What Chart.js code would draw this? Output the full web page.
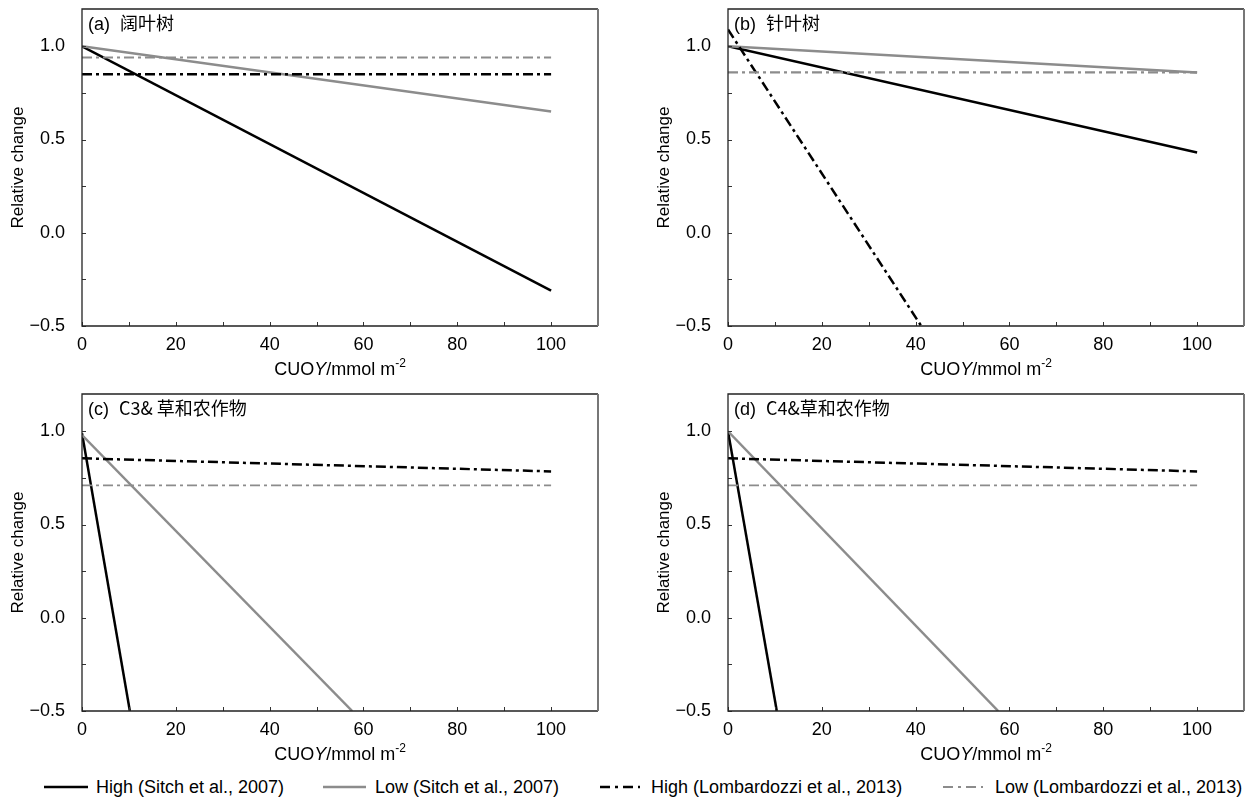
<!DOCTYPE html>
<html>
<head>
<meta charset="utf-8">
<script src="https://cdn.jsdelivr.net/npm/chart.js@4.4.1/dist/chart.umd.min.js"></script>
<style>
  body { margin: 0; background: #fff; width: 1247px; height: 798px; position: relative; overflow: hidden;
         font-family: "Liberation Sans", Arial, sans-serif; }
  .panel { position: absolute; }
  .legend { position: absolute; top: 776px; left: 0; width: 1247px; height: 22px; font-size: 18px; color: #000; }
  .legend span, .legend svg { position: absolute; }
  .legend span { top: 1px; white-space: nowrap; line-height: 20px; }
  .legend svg { top: 9px; }
</style>
</head>
<body>
<div class="panel" style="left:0;top:0"><canvas id="pa" width="623" height="385"></canvas></div>
<div class="panel" style="left:646px;top:0"><canvas id="pb" width="601" height="385"></canvas></div>
<div class="panel" style="left:0;top:385px"><canvas id="pc" width="623" height="385"></canvas></div>
<div class="panel" style="left:646px;top:385px"><canvas id="pd" width="601" height="385"></canvas></div>

<div class="legend">
  <svg style="left:44px" width="44" height="4"><line x1="0" y1="2" x2="44" y2="2" stroke="#000" stroke-width="2.5"/></svg>
  <span style="left:96px">High (Sitch et al., 2007)</span>
  <svg style="left:323px" width="43" height="4"><line x1="0" y1="2" x2="43" y2="2" stroke="#8c8c8c" stroke-width="2.5"/></svg>
  <span style="left:375px">Low (Sitch et al., 2007)</span>
  <svg style="left:600px" width="40" height="4"><line x1="0" y1="2" x2="40" y2="2" stroke="#000" stroke-width="2.5" stroke-dasharray="10 5 3 5"/></svg>
  <span style="left:651px">High (Lombardozzi et al., 2013)</span>
  <svg style="left:943px" width="40" height="4"><line x1="0" y1="2" x2="40" y2="2" stroke="#8c8c8c" stroke-width="2" stroke-dasharray="10 5 3 5"/></svg>
  <span style="left:995px">Low (Lombardozzi et al., 2013)</span>
</div>

<script>
// panels: a 阔叶树, b 针叶树, c C3&草和农作物, d C4&草和农作物
const panelLabels = ['(a)', '(b)', '(c)', '(d)'];
const panelNames = ['阔叶树', '针叶树', 'C3& 草和农作物', 'C4&草和农作物'];
const seriesNames = ['High (Sitch et al., 2007)', 'Low (Sitch et al., 2007)',
                     'High (Lombardozzi et al., 2013)', 'Low (Lombardozzi et al., 2013)'];

const highSitchX = [[0, 100], [0, 100], [0, 10.2], [0, 10.4]];
const highSitchY = [[1.0, -0.31], [1.0, 0.43], [0.99, -0.5], [1.0, -0.5]];
const lowSitchX = [[0, 100], [0, 100], [0, 57.6], [0, 57.6]];
const lowSitchY = [[1.0, 0.65], [1.0, 0.86], [0.98, -0.5], [1.0, -0.5]];
const highLombX = [[0, 100], [0, 41.2], [0, 100], [0, 100]];
const highLombY = [[0.85, 0.85], [1.09, -0.5], [0.855, 0.785], [0.855, 0.785]];
const lowLombX = [[0, 100], [0, 100], [0, 100], [0, 100]];
const lowLombY = [[0.94, 0.94], [0.86, 0.86], [0.71, 0.71], [0.71, 0.71]];

const xTicks = [0, 20, 40, 60, 80, 100];
const xMinor = [10, 30, 50, 70, 90];
const yTicks = [-0.5, 0.0, 0.5, 1.0];
const yMinor = [-0.25, 0.25, 0.75];

const BLACK = '#000000';
const GRAY = '#8c8c8c';
const FONT = '"Liberation Sans", Arial, sans-serif';
const CJK = '"Noto Sans CJK SC", sans-serif';

function pts(xs, ys) { return xs.map((x, i) => ({ x: x, y: ys[i] })); }

// frame, inward ticks and text that needs mixed fonts
const decorations = {
  id: 'decorations',
  afterDraw(chart) {
    const ctx = chart.ctx, a = chart.chartArea;
    const xs = chart.scales.x, ys = chart.scales.y;
    const idx = chart.options.plugins.decorations.idx;
    ctx.save();
    // ticks
    ctx.strokeStyle = '#333';
    ctx.lineWidth = 1;
    ctx.beginPath();
    xTicks.concat(xMinor).forEach(v => {
      const px = Math.round(xs.getPixelForValue(v)) + 0.5;
      ctx.moveTo(px, a.bottom); ctx.lineTo(px, a.bottom - 4);
    });
    yTicks.concat(yMinor).forEach(v => {
      const py = Math.round(ys.getPixelForValue(v)) + 0.5;
      ctx.moveTo(a.left, py); ctx.lineTo(a.left + 4, py);
    });
    ctx.stroke();
    // frame
    ctx.lineWidth = 1.3;
    ctx.strokeStyle = '#222';
    ctx.beginPath();
    ctx.moveTo(a.right, a.top); ctx.lineTo(a.left, a.top); ctx.lineTo(a.left, a.bottom); ctx.lineTo(a.right, a.bottom);
    ctx.stroke();
    ctx.strokeStyle = '#777';
    ctx.lineWidth = 2;
    ctx.beginPath();
    ctx.moveTo(a.right, a.top); ctx.lineTo(a.right, a.bottom);
    ctx.stroke();

    ctx.fillStyle = '#000';
    ctx.textBaseline = 'alphabetic';
    // panel label
    ctx.font = '18px ' + FONT;
    ctx.textAlign = 'left';
    ctx.fillText(panelLabels[idx], a.left + 6, a.top + 21);
    const lw = ctx.measureText(panelLabels[idx]).width;
    ctx.font = '18px ' + CJK;
    ctx.fillText(panelNames[idx], a.left + 6 + lw + 10, a.top + 21);

    // x title: CUO Y /mmol m^-2
    const parts = [['CUO', '18px ' + FONT, 0], ['Y', 'italic 18px ' + FONT, 0],
                   ['/mmol m', '18px ' + FONT, 0], ['-2', '12px ' + FONT, -8]];
    let total = 0;
    parts.forEach(p => { ctx.font = p[1]; total += ctx.measureText(p[0]).width; });
    let x = (a.left + a.right) / 2 - total / 2;
    const by = a.bottom + 49;
    parts.forEach(p => {
      ctx.font = p[1];
      ctx.fillText(p[0], x, by + p[2]);
      x += ctx.measureText(p[0]).width;
    });

    // y title
    ctx.font = '17px ' + FONT;
    ctx.translate(18, (a.top + a.bottom) / 2);
    ctx.rotate(-Math.PI / 2);
    ctx.textAlign = 'center';
    ctx.textBaseline = 'middle';
    ctx.fillText('Relative change', 0, 0);
    ctx.restore();
  }
};

function makePanel(id, idx, rightPad) {
  const datasets = [
    { label: seriesNames[3], data: pts(lowLombX[idx], lowLombY[idx]), borderColor: GRAY,
      borderWidth: idx >= 2 ? 1.6 : 2.2, borderDash: [10, 4, 3, 4] },
    { label: seriesNames[2], data: pts(highLombX[idx], highLombY[idx]), borderColor: BLACK,
      borderWidth: 2.5, borderDash: [10, 4, 3, 4] },
    { label: seriesNames[1], data: pts(lowSitchX[idx], lowSitchY[idx]), borderColor: GRAY, borderWidth: 2.5 },
    { label: seriesNames[0], data: pts(highSitchX[idx], highSitchY[idx]), borderColor: BLACK, borderWidth: 2.5 }
  ];
  datasets.forEach(d => { d.pointRadius = 0; d.fill = false; d.tension = 0; });

  new Chart(document.getElementById(id), {
    type: 'line',
    data: { datasets: datasets },
    options: {
      responsive: false,
      animation: false,
      layout: { padding: { top: 9, right: rightPad, left: 0, bottom: 0 } },
      plugins: { legend: { display: false }, tooltip: { enabled: false }, decorations: { idx: idx } },
      scales: {
        x: {
          type: 'linear', min: 0, max: 110,
          grid: { display: false }, border: { display: false },
          afterBuildTicks: s => { s.ticks = xTicks.map(v => ({ value: v })); },
          afterFit: s => { s.height = 59; s.paddingLeft = 0; s.paddingRight = 0; },
          ticks: { color: '#000', font: { family: FONT, size: 18 }, padding: 0, maxRotation: 0,
                   callback: v => String(v) }
        },
        y: {
          min: -0.5, max: 1.2,
          grid: { display: false }, border: { display: false },
          afterBuildTicks: s => { s.ticks = yTicks.map(v => ({ value: v })); },
          afterFit: s => { s.width = 82; s.paddingTop = 0; s.paddingBottom = 0; },
          ticks: { color: '#000', font: { family: FONT, size: 18 }, padding: 9,
                   callback: v => (v < 0 ? '\u2212' : '') + Math.abs(v).toFixed(1) }
        }
      }
    },
    plugins: [decorations]
  });
}

makePanel('pa', 0, 25);
makePanel('pb', 1, 3);
makePanel('pc', 2, 25);
makePanel('pd', 3, 3);
</script>
</body>
</html>
